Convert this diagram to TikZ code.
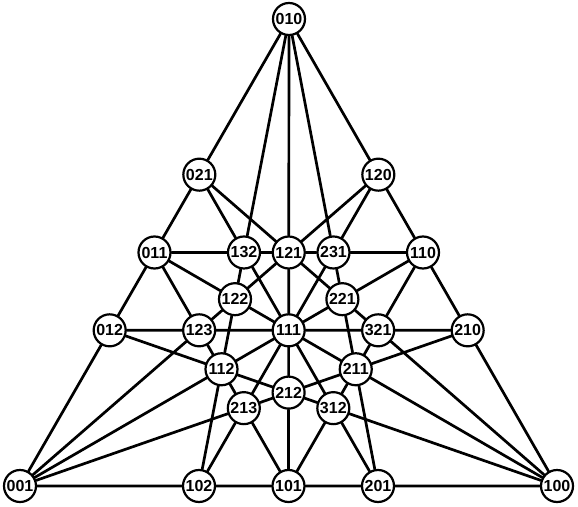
\documentclass[tikz,border=0pt]{standalone}
\usepackage{fontspec}
\setmainfont{Liberation Sans}
\usetikzlibrary{backgrounds}
\begin{document}
\begin{tikzpicture}[x=1pt,y=-1pt,
  vtx/.style={circle,draw=black,fill=white,line width=2.2pt,minimum size=32pt,inner sep=0pt,font=\fontsize{16}{16}\selectfont\bfseries},
  link/.style={line width=2.7pt,line cap=round}]
\useasboundingbox (0,0) rectangle (578,506);
\coordinate (cT) at (289,19);
\coordinate (cR) at (557,486);
\coordinate (cL) at (20,486);
\foreach \a/\b/\c in {1/0/0,0/1/0,0/0/1,1/1/0,0/1/1,1/0/1,1/2/0,2/1/0,0/2/1,0/1/2,1/0/2,2/0/1,
  1/1/1,1/2/1,2/1/1,1/1/2,1/2/2,2/2/1,2/1/2,1/3/2,2/3/1,1/2/3,3/2/1,2/1/3,3/1/2}
  {\node[vtx] (n\a\b\c) at (barycentric cs:cR=\a,cT=\b,cL=\c) {\a\b\c};}
\begin{scope}[on background layer]
\foreach \u/\v in {010/021,021/011,011/012,012/001,010/120,120/110,110/210,210/100,001/102,102/101,101/201,201/100,
  010/132,010/121,010/231,100/321,100/211,100/312,001/213,001/112,001/123,
  021/132,021/121,210/321,210/211,102/213,102/112,
  120/231,120/121,201/312,201/211,012/123,012/112,
  011/132,011/122,011/123,110/321,110/221,110/231,101/213,101/212,101/312,
  132/121,132/122,132/111,321/211,321/221,321/111,213/112,213/212,213/111,
  231/121,231/221,231/111,312/211,312/212,312/111,123/112,123/122,123/111,
  121/111,121/122,121/221,211/111,211/221,211/212,112/111,112/212,112/122,
  122/111,221/111,212/111}
  {\draw[link] (n\u) -- (n\v);}
\end{scope}
\end{tikzpicture}
\end{document}
